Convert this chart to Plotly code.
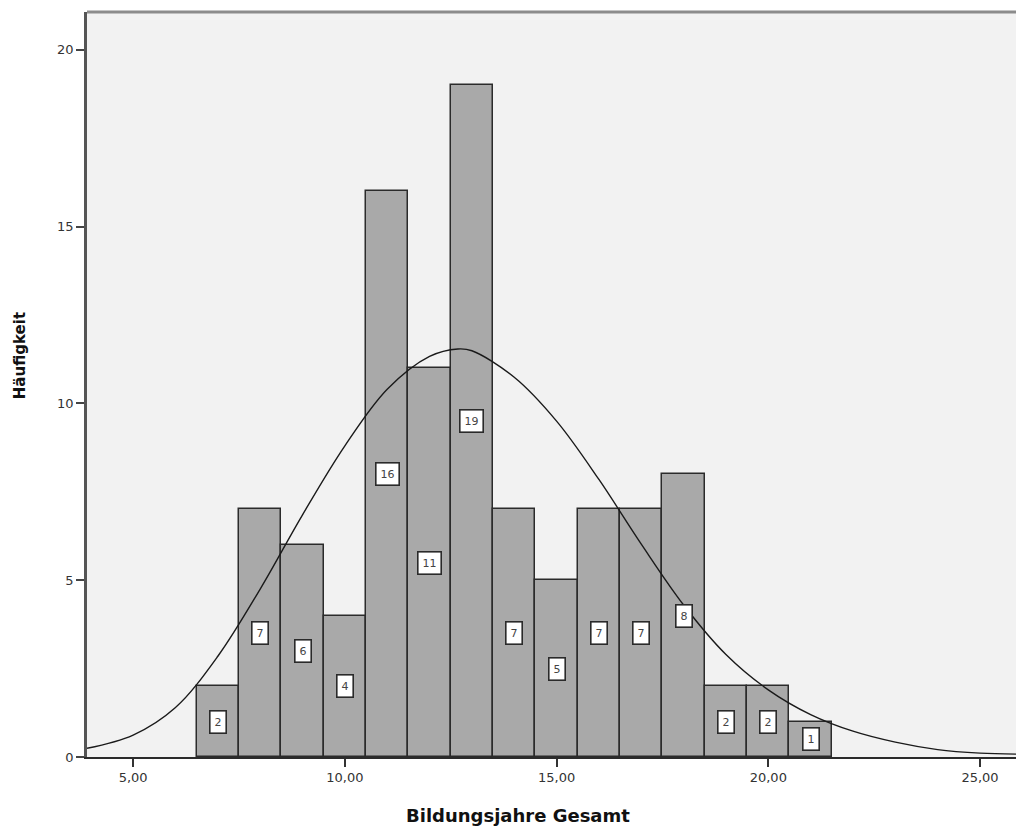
import plotly.graph_objects as go

# Histogram data (bin centers and counts)
bin_centers = [7, 8, 9, 10, 11, 12, 13, 14, 15, 16, 17, 18, 19, 20, 21]
counts = [2, 7, 6, 4, 16, 11, 19, 7, 5, 7, 7, 8, 2, 2, 1]

# Normal curve points
curve_x = [3.91, 5, 6, 7, 8, 9, 10, 11, 12, 12.67, 13, 14, 15, 16, 17, 18, 19, 20, 21, 22, 23, 24, 25, 25.85]
curve_y = [0.245, 0.62, 1.4, 2.85, 4.75, 6.85, 8.8, 10.4, 11.33, 11.54, 11.49, 10.74, 9.5, 7.85, 6.02, 4.3, 2.9, 1.9, 1.2, 0.73, 0.42, 0.21, 0.11, 0.08]

x_ticks = [5, 10, 15, 20, 25]
y_ticks = [0, 5, 10, 15, 20]

fig = go.Figure()
fig.add_trace(go.Bar(
    x=bin_centers, y=counts, width=1,
    marker=dict(color="#a9a9a9", line=dict(color="#2b2b2b", width=1.5)),
    hoverinfo="skip", showlegend=False,
))
fig.add_trace(go.Scatter(
    x=curve_x, y=curve_y, mode="lines",
    line=dict(color="#1a1a1a", width=1.4, shape="spline", smoothing=1.0),
    hoverinfo="skip", showlegend=False,
))

for xc, c in zip(bin_centers, counts):
    fig.add_annotation(
        x=xc, y=c / 2, text=str(c), showarrow=False,
        font=dict(family="DejaVu Sans", size=11, color="#444444"),
        bgcolor="white", bordercolor="#2a2a2a", borderwidth=1.6, borderpad=4,
    )

fig.add_annotation(
    xref="paper", yref="paper", x=0.464, y=0, yshift=-58,
    text="<b>Bildungsjahre Gesamt</b>", showarrow=False,
    font=dict(family="DejaVu Sans", size=18, color="#111111"),
    yanchor="middle",
)
fig.add_annotation(
    xref="paper", yref="paper", x=0, xshift=-67, y=0.538,
    text="<b>Häufigkeit</b>", textangle=-90, showarrow=False,
    font=dict(family="DejaVu Sans", size=15, color="#111111"),
    xanchor="center",
)

fig.add_shape(type="line", xref="paper", yref="paper", x0=0, x1=1, y0=1, y1=1,
              line=dict(color="#8c8c8c", width=3))

fig.update_layout(
    width=1016, height=832,
    margin=dict(l=87, r=0, t=12, b=75),
    paper_bgcolor="white", plot_bgcolor="#f2f2f2",
    separators=",.",
    bargap=0,
    xaxis=dict(
        range=[3.91, 25.85], tickvals=x_ticks, tickformat=".2f",
        ticks="outside", ticklen=8, tickwidth=1.5, tickcolor="#333333",
        showgrid=False, zeroline=False,
        showline=True, linecolor="#2b2b2b", linewidth=1.5,
        tickfont=dict(family="DejaVu Sans", size=13, color="#333333"),
    ),
    yaxis=dict(
        range=[0, 21.07], tickvals=y_ticks,
        ticks="outside", ticklen=8, tickwidth=1.5, tickcolor="#444444",
        showgrid=False, zeroline=False,
        showline=True, linecolor="#555555", linewidth=2.5,
        tickfont=dict(family="DejaVu Sans", size=13, color="#333333"),
    ),
)

fig.write_html("out.html")
